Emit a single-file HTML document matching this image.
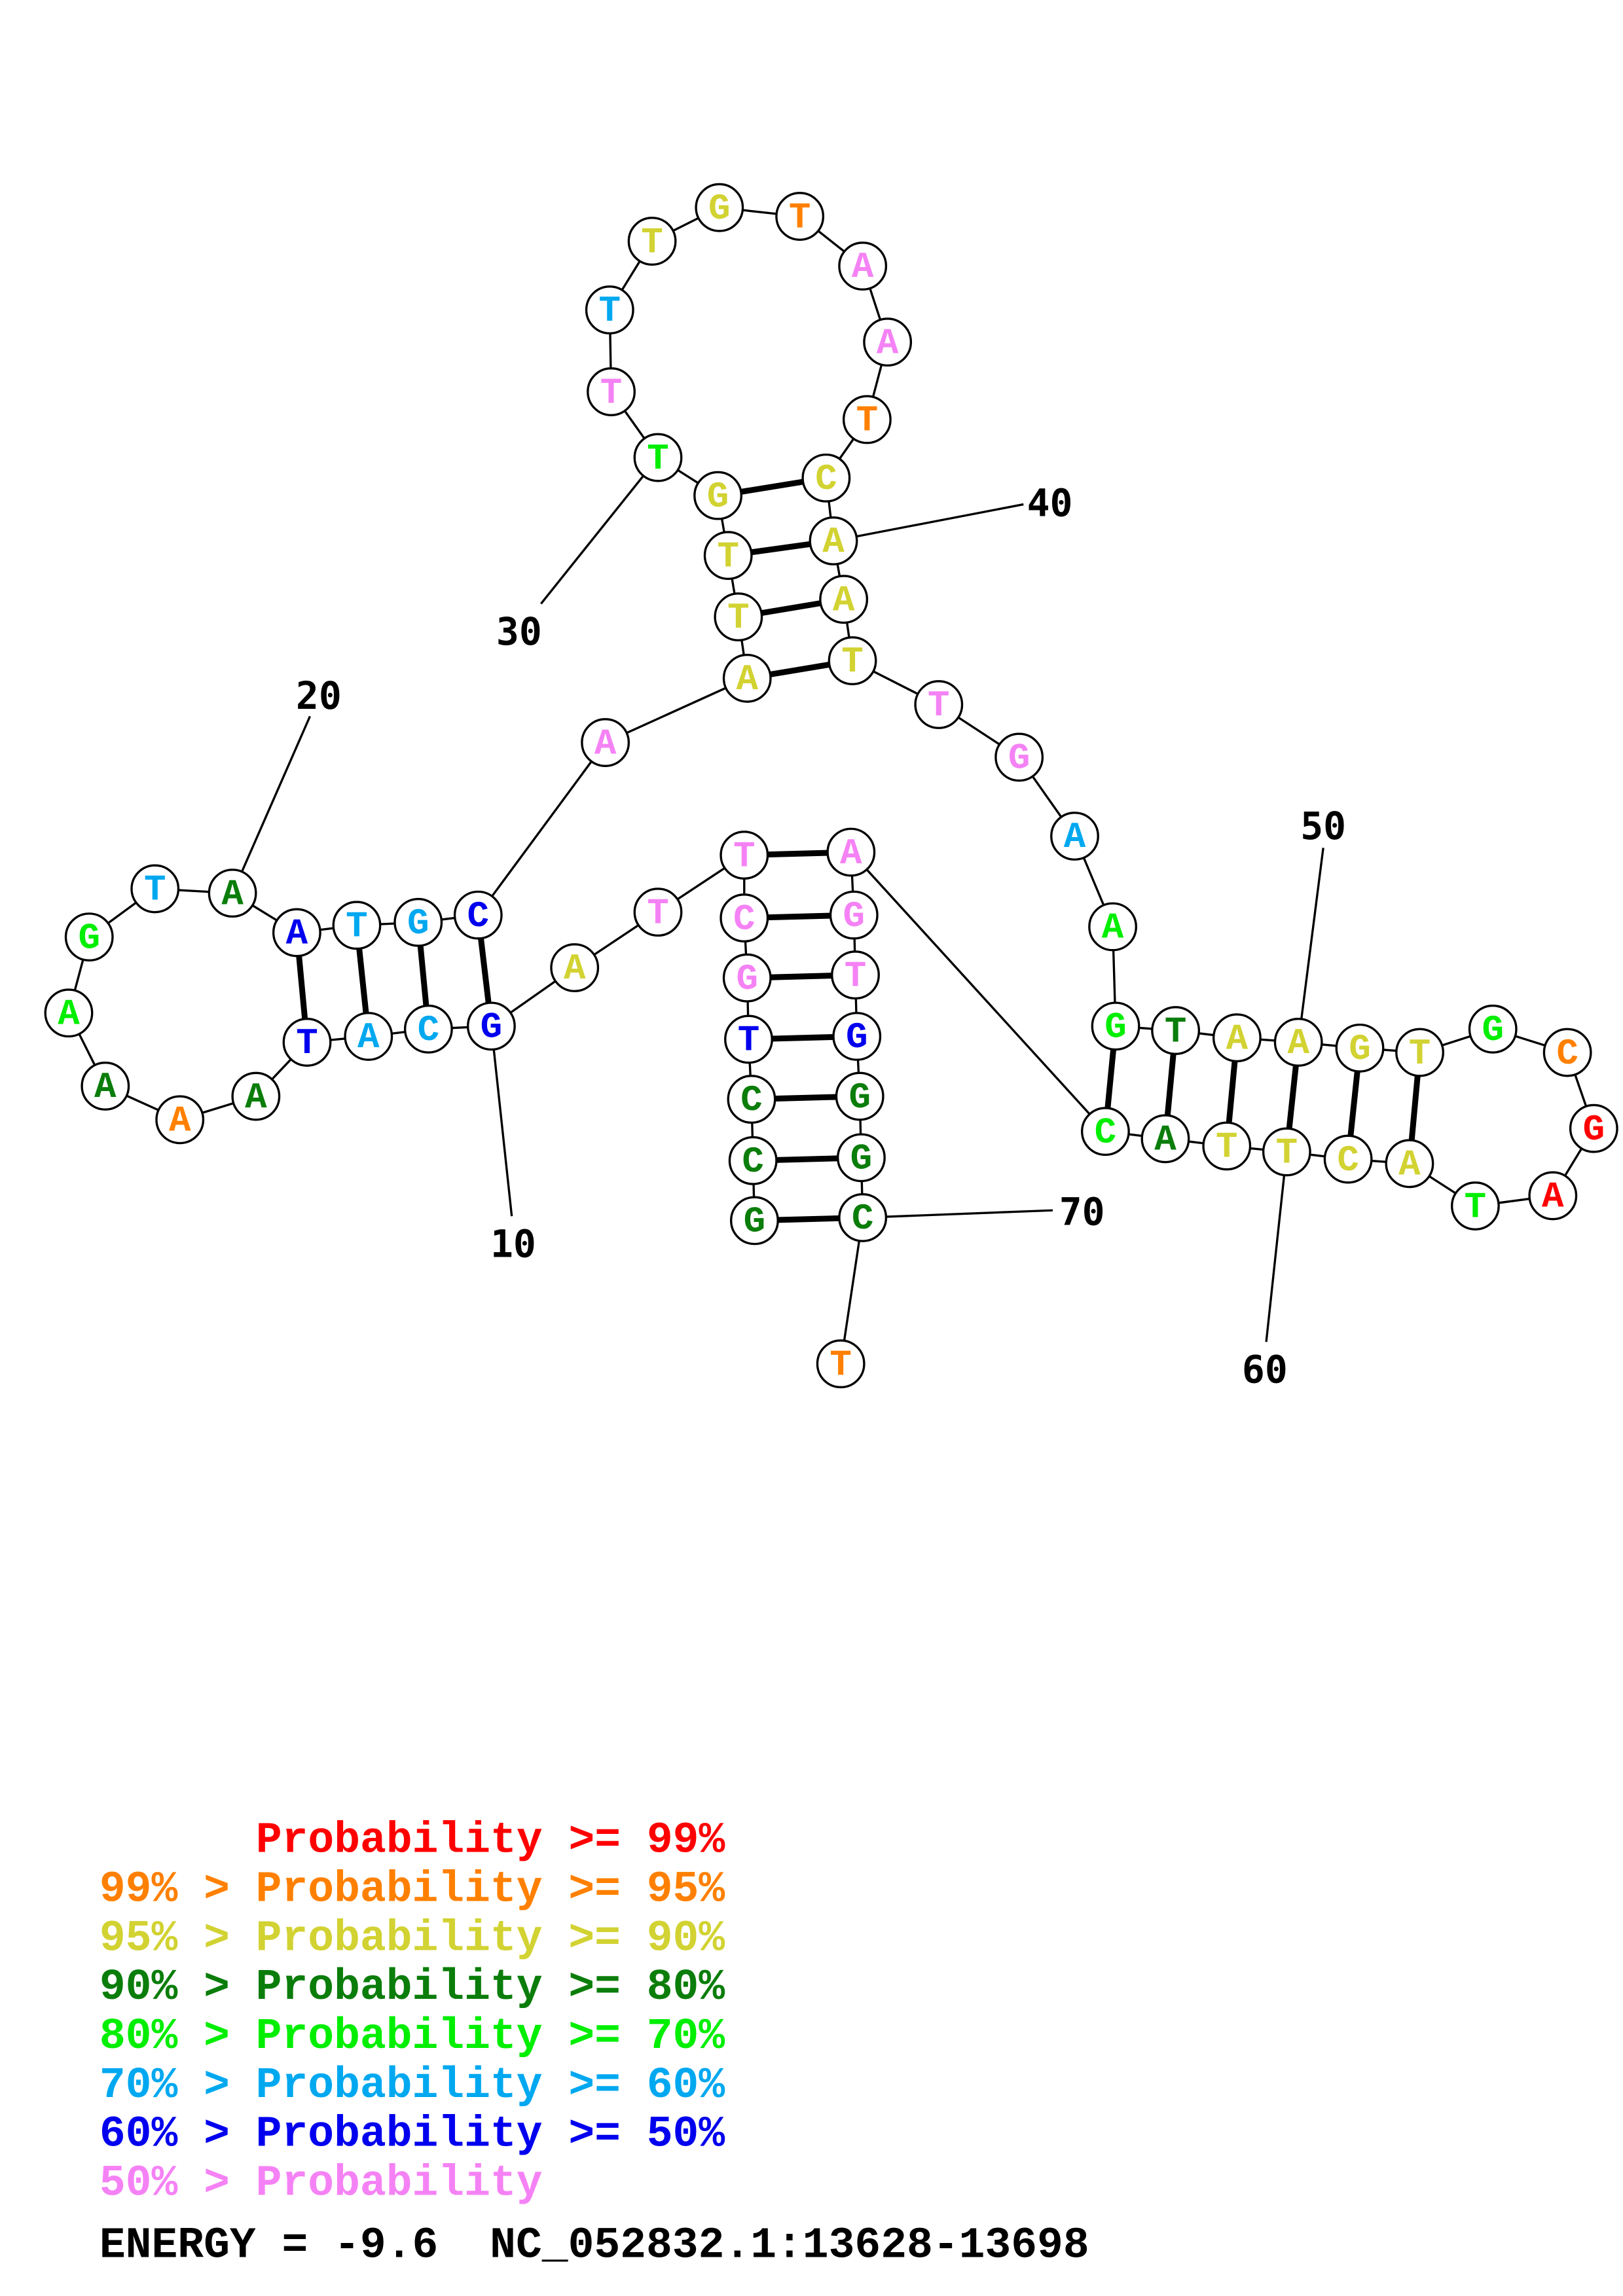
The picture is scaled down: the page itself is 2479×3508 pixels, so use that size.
<!DOCTYPE html>
<html><head><meta charset="utf-8"><style>
html,body{margin:0;padding:0;background:#fff;}
svg{display:block;}
.n text{font-family:"Liberation Mono",monospace;font-weight:bold;font-size:25px;text-anchor:middle;dominant-baseline:central;}
.n circle{fill:#fff;stroke:#000;stroke-width:1.5;}
.lbl{font-family:"DejaVu Sans Mono","Liberation Mono",monospace;font-weight:bold;font-size:26px;text-anchor:middle;dominant-baseline:central;fill:#000;}
.leg text{font-family:"Liberation Mono",monospace;font-weight:bold;font-size:29.7px;white-space:pre;}
.R{fill:#ff0000}.O{fill:#ff8000}.Y{fill:#d2d232}.D{fill:#0a7d0a}.G{fill:#00ee00}.L{fill:#00a8f0}.B{fill:#0000ee}.P{fill:#f582f5}
</style></head><body>
<svg width="2479" height="3508" viewBox="0 0 1110 1570.7" xmlns="http://www.w3.org/2000/svg">
<g stroke="#000" stroke-width="1.5" fill="none">
<polyline points="516,835 515,794 514,752 512,711 511,669 509,628 509,585 450,624 393,662 336,702 293,704 252,709 210,713 175,750 123,766 72,743 47,693 61,641 106,608 159,611 203,638 244,633 286,631 327,626 414,508 511,464 505,422 498,380 491,339 450,313 418,268 417,212 446,165 492,142 547,148 590,182 607,234 593,287 565,327 570,370 577,410 583,452 642,482 697,518 735,572 761,634 763,702 804,705 846,710 888,713 930,717 971,720 1021,704 1072,720 1090,772 1062,818 1009,825 964,796 922,793 880,788 839,784 797,779 756,774 582,583 584,626 585,667 586,709 588,750 589,792 590,833 575,933"/>
<line x1="336" y1="702" x2="350" y2="832"/>
<line x1="159" y1="611" x2="212" y2="490"/>
<line x1="450" y1="313" x2="370" y2="413"/>
<line x1="570" y1="370" x2="700" y2="345"/>
<line x1="888" y1="713" x2="905" y2="580"/>
<line x1="880" y1="788" x2="866" y2="918"/>
<line x1="590" y1="833" x2="720" y2="828"/>
</g>
<g stroke="#000" stroke-width="4">
<line x1="516" y1="835" x2="590" y2="833"/><line x1="515" y1="794" x2="589" y2="792"/><line x1="514" y1="752" x2="588" y2="750"/><line x1="512" y1="711" x2="586" y2="709"/><line x1="511" y1="669" x2="585" y2="667"/><line x1="509" y1="628" x2="584" y2="626"/><line x1="509" y1="585" x2="582" y2="583"/>
<line x1="336" y1="702" x2="327" y2="626"/><line x1="293" y1="704" x2="286" y2="631"/><line x1="252" y1="709" x2="244" y2="633"/><line x1="210" y1="713" x2="203" y2="638"/>
<line x1="511" y1="464" x2="583" y2="452"/><line x1="505" y1="422" x2="577" y2="410"/><line x1="498" y1="380" x2="570" y2="370"/><line x1="491" y1="339" x2="565" y2="327"/>
<line x1="763" y1="702" x2="756" y2="774"/><line x1="804" y1="705" x2="797" y2="779"/><line x1="846" y1="710" x2="839" y2="784"/><line x1="888" y1="713" x2="880" y2="788"/><line x1="930" y1="717" x2="922" y2="793"/><line x1="971" y1="720" x2="964" y2="796"/>
</g>
<g class="n">
<circle cx="516" cy="835" r="16"/><text x="516" y="836" class="D">G</text>
<circle cx="515" cy="794" r="16"/><text x="515" y="795" class="D">C</text>
<circle cx="514" cy="752" r="16"/><text x="514" y="753" class="D">C</text>
<circle cx="512" cy="711" r="16"/><text x="512" y="712" class="B">T</text>
<circle cx="511" cy="669" r="16"/><text x="511" y="670" class="P">G</text>
<circle cx="509" cy="628" r="16"/><text x="509" y="629" class="P">C</text>
<circle cx="509" cy="585" r="16"/><text x="509" y="586" class="P">T</text>
<circle cx="450" cy="624" r="16"/><text x="450" y="625" class="P">T</text>
<circle cx="393" cy="662" r="16"/><text x="393" y="663" class="Y">A</text>
<circle cx="336" cy="702" r="16"/><text x="336" y="703" class="B">G</text>
<circle cx="293" cy="704" r="16"/><text x="293" y="705" class="L">C</text>
<circle cx="252" cy="709" r="16"/><text x="252" y="710" class="L">A</text>
<circle cx="210" cy="713" r="16"/><text x="210" y="714" class="B">T</text>
<circle cx="175" cy="750" r="16"/><text x="175" y="751" class="D">A</text>
<circle cx="123" cy="766" r="16"/><text x="123" y="767" class="O">A</text>
<circle cx="72" cy="743" r="16"/><text x="72" y="744" class="D">A</text>
<circle cx="47" cy="693" r="16"/><text x="47" y="694" class="G">A</text>
<circle cx="61" cy="641" r="16"/><text x="61" y="642" class="G">G</text>
<circle cx="106" cy="608" r="16"/><text x="106" y="609" class="L">T</text>
<circle cx="159" cy="611" r="16"/><text x="159" y="612" class="D">A</text>
<circle cx="203" cy="638" r="16"/><text x="203" y="639" class="B">A</text>
<circle cx="244" cy="633" r="16"/><text x="244" y="634" class="L">T</text>
<circle cx="286" cy="631" r="16"/><text x="286" y="632" class="L">G</text>
<circle cx="327" cy="626" r="16"/><text x="327" y="627" class="B">C</text>
<circle cx="414" cy="508" r="16"/><text x="414" y="509" class="P">A</text>
<circle cx="511" cy="464" r="16"/><text x="511" y="465" class="Y">A</text>
<circle cx="505" cy="422" r="16"/><text x="505" y="423" class="Y">T</text>
<circle cx="498" cy="380" r="16"/><text x="498" y="381" class="Y">T</text>
<circle cx="491" cy="339" r="16"/><text x="491" y="340" class="Y">G</text>
<circle cx="450" cy="313" r="16"/><text x="450" y="314" class="G">T</text>
<circle cx="418" cy="268" r="16"/><text x="418" y="269" class="P">T</text>
<circle cx="417" cy="212" r="16"/><text x="417" y="213" class="L">T</text>
<circle cx="446" cy="165" r="16"/><text x="446" y="166" class="Y">T</text>
<circle cx="492" cy="142" r="16"/><text x="492" y="143" class="Y">G</text>
<circle cx="547" cy="148" r="16"/><text x="547" y="149" class="O">T</text>
<circle cx="590" cy="182" r="16"/><text x="590" y="183" class="P">A</text>
<circle cx="607" cy="234" r="16"/><text x="607" y="235" class="P">A</text>
<circle cx="593" cy="287" r="16"/><text x="593" y="288" class="O">T</text>
<circle cx="565" cy="327" r="16"/><text x="565" y="328" class="Y">C</text>
<circle cx="570" cy="370" r="16"/><text x="570" y="371" class="Y">A</text>
<circle cx="577" cy="410" r="16"/><text x="577" y="411" class="Y">A</text>
<circle cx="583" cy="452" r="16"/><text x="583" y="453" class="Y">T</text>
<circle cx="642" cy="482" r="16"/><text x="642" y="483" class="P">T</text>
<circle cx="697" cy="518" r="16"/><text x="697" y="519" class="P">G</text>
<circle cx="735" cy="572" r="16"/><text x="735" y="573" class="L">A</text>
<circle cx="761" cy="634" r="16"/><text x="761" y="635" class="G">A</text>
<circle cx="763" cy="702" r="16"/><text x="763" y="703" class="G">G</text>
<circle cx="804" cy="705" r="16"/><text x="804" y="706" class="D">T</text>
<circle cx="846" cy="710" r="16"/><text x="846" y="711" class="Y">A</text>
<circle cx="888" cy="713" r="16"/><text x="888" y="714" class="Y">A</text>
<circle cx="930" cy="717" r="16"/><text x="930" y="718" class="Y">G</text>
<circle cx="971" cy="720" r="16"/><text x="971" y="721" class="Y">T</text>
<circle cx="1021" cy="704" r="16"/><text x="1021" y="705" class="G">G</text>
<circle cx="1072" cy="720" r="16"/><text x="1072" y="721" class="O">C</text>
<circle cx="1090" cy="772" r="16"/><text x="1090" y="773" class="R">G</text>
<circle cx="1062" cy="818" r="16"/><text x="1062" y="819" class="R">A</text>
<circle cx="1009" cy="825" r="16"/><text x="1009" y="826" class="G">T</text>
<circle cx="964" cy="796" r="16"/><text x="964" y="797" class="Y">A</text>
<circle cx="922" cy="793" r="16"/><text x="922" y="794" class="Y">C</text>
<circle cx="880" cy="788" r="16"/><text x="880" y="789" class="Y">T</text>
<circle cx="839" cy="784" r="16"/><text x="839" y="785" class="Y">T</text>
<circle cx="797" cy="779" r="16"/><text x="797" y="780" class="D">A</text>
<circle cx="756" cy="774" r="16"/><text x="756" y="775" class="G">C</text>
<circle cx="582" cy="583" r="16"/><text x="582" y="584" class="P">A</text>
<circle cx="584" cy="626" r="16"/><text x="584" y="627" class="P">G</text>
<circle cx="585" cy="667" r="16"/><text x="585" y="668" class="P">T</text>
<circle cx="586" cy="709" r="16"/><text x="586" y="710" class="B">G</text>
<circle cx="588" cy="750" r="16"/><text x="588" y="751" class="D">G</text>
<circle cx="589" cy="792" r="16"/><text x="589" y="793" class="D">G</text>
<circle cx="590" cy="833" r="16"/><text x="590" y="834" class="D">C</text>
<circle cx="575" cy="933" r="16"/><text x="575" y="934" class="O">T</text>
</g>
<text class="lbl" x="351" y="851">10</text>
<text class="lbl" x="218" y="476">20</text>
<text class="lbl" x="355" y="432">30</text>
<text class="lbl" x="718" y="344">40</text>
<text class="lbl" x="905" y="565">50</text>
<text class="lbl" x="865" y="937">60</text>
<text class="lbl" x="740" y="829">70</text>
<g class="leg">
<text x="175" y="1267" class="R">Probability &gt;= 99%</text>
<text x="68" y="1300.5" class="O">99% &gt; Probability &gt;= 95%</text>
<text x="68" y="1334" class="Y">95% &gt; Probability &gt;= 90%</text>
<text x="68" y="1367.5" class="D">90% &gt; Probability &gt;= 80%</text>
<text x="68" y="1401" class="G">80% &gt; Probability &gt;= 70%</text>
<text x="68" y="1434.5" class="L">70% &gt; Probability &gt;= 60%</text>
<text x="68" y="1468" class="B">60% &gt; Probability &gt;= 50%</text>
<text x="68" y="1501.5" class="P">50% &gt; Probability</text>
<text x="68" y="1544" fill="#000">ENERGY = -9.6</text>
<text x="335" y="1544" fill="#000">NC_052832.1:13628-13698</text>
</g>
</svg>
</body></html>
